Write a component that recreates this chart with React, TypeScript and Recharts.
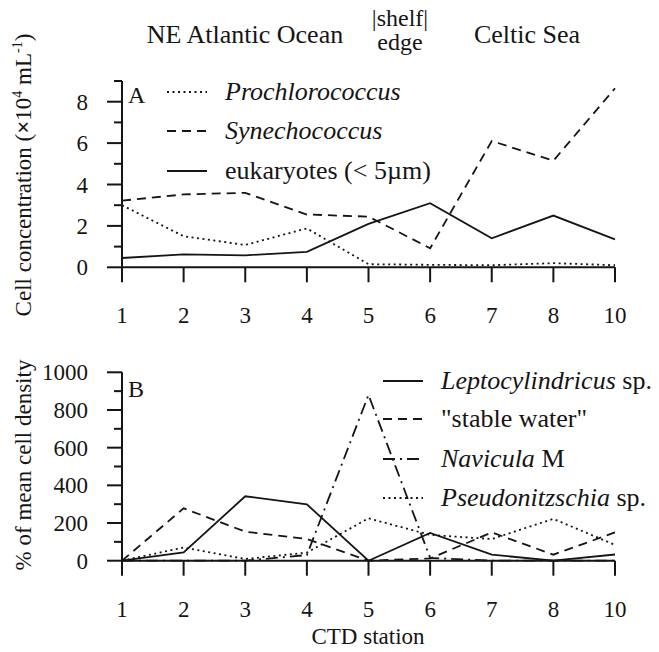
import React from 'react';
import { LineChart, Line, XAxis, YAxis } from 'recharts';

// CTD stations along the transect
const stations = ['1', '2', '3', '4', '5', '6', '7', '8', '10'];

// panel A, cell concentration (x10^4 per mL)
const prochlorococcus = [3.0, 1.5, 1.08, 1.88, 0.15, 0.12, 0.1, 0.2, 0.1];
const synechococcus = [3.22, 3.52, 3.6, 2.55, 2.45, 0.92, 6.1, 5.15, 8.65];
const eukaryotes = [0.45, 0.62, 0.58, 0.75, 2.1, 3.1, 1.4, 2.5, 1.35];

// panel B, % of mean cell density
const leptocylindricus = [0, 44, 342, 299, 0, 147, 32, 0, 33];
const stableWater = [0, 278, 154, 115, 0, 12, 150, 32, 150];
const navicula = [0, 0, 0, 30, 880, 15, 0, 0, 0];
const pseudonitzschia = [0, 70, 9, 43, 225, 137, 115, 222, 84];

const ticksA = [0, 1, 2, 3, 4, 5, 6, 7, 8, 9];
const ticksB = [0, 100, 200, 300, 400, 500, 600, 700, 800, 900, 1000];

const dataA = stations.map((s, i) => ({
  station: s,
  pro: prochlorococcus[i],
  syn: synechococcus[i],
  euk: eukaryotes[i],
}));

const dataB = stations.map((s, i) => ({
  station: s,
  lep: leptocylindricus[i],
  stw: stableWater[i],
  nav: navicula[i],
  pse: pseudonitzschia[i],
}));

const FONT = "'Liberation Serif', 'DejaVu Serif', 'Noto Serif', 'Times New Roman', serif";
const INK = '#151515';
const DOT = '2 3.5';
const DASH = '9 6';
const DASHDOT = '12 5 2 5';
const serif = { fontFamily: FONT };

const YTick = ({ x, y, payload, every }: any) => {
  const major = payload.value % every === 0;
  return (
    <g>
      <line x1={x - (major ? 15 : 8)} x2={x} y1={y} y2={y} stroke={INK} strokeWidth={2} />
      {major && (
        <text x={x - 34} y={y} dy={8} textAnchor="end" fontSize={23} style={serif} fill={INK}>
          {payload.value}
        </text>
      )}
    </g>
  );
};

const XTick = ({ x, y, payload }: any) => (
  <g>
    <line x1={x} x2={x} y1={y} y2={y + 15} stroke={INK} strokeWidth={2} />
    <text x={x} y={y + 56} textAnchor="middle" fontSize={23} style={serif} fill={INK}>
      {payload.value}
    </text>
  </g>
);

const LegendRow = ({ y, dash, x1, children }: any) => (
  <g>
    <line x1={x1} x2={x1 + 40} y1={y} y2={y} stroke={INK} strokeWidth={1.8} strokeDasharray={dash} />
    <text x={x1 + 58} y={y + 8} fontSize={26} style={serif} fill={INK}>
      {children}
    </text>
  </g>
);

export default function App() {
  return (
    <div style={{ position: 'absolute', left: 0, top: 0, width: 659, height: 652, background: '#fff', fontFamily: FONT }}>
      <div style={{ position: 'absolute', left: 0, top: 0 }}>
        <LineChart width={659} height={340} data={dataA} margin={{ top: 81, right: 44, left: 62, bottom: 32.7 }}>
          <XAxis
            dataKey="station"
            height={40}
            interval={0}
            tickSize={0}
            tickMargin={0}
            tickLine={false}
            tick={<XTick />}
            axisLine={{ stroke: INK, strokeWidth: 2 }}
          />
          <YAxis
            width={60}
            domain={[0, 9]}
            ticks={ticksA}
            interval={0}
            tickSize={0}
            tickMargin={0}
            tickLine={false}
            tick={<YTick every={2} />}
            axisLine={{ stroke: INK, strokeWidth: 2 }}
          />
          <Line dataKey="pro" stroke={INK} strokeWidth={1.8} strokeDasharray={DOT} dot={false} isAnimationActive={false} />
          <Line dataKey="syn" stroke={INK} strokeWidth={1.8} strokeDasharray={DASH} dot={false} isAnimationActive={false} />
          <Line dataKey="euk" stroke={INK} strokeWidth={1.8} dot={false} isAnimationActive={false} />
        </LineChart>
      </div>
      <div style={{ position: 'absolute', left: 0, top: 300 }}>
        <LineChart width={659} height={352} data={dataB} margin={{ top: 72.3, right: 44, left: 62, bottom: 51.3 }}>
          <XAxis
            dataKey="station"
            height={40}
            interval={0}
            tickSize={0}
            tickMargin={0}
            tickLine={false}
            tick={<XTick />}
            axisLine={{ stroke: INK, strokeWidth: 2 }}
          />
          <YAxis
            width={60}
            domain={[0, 1000]}
            ticks={ticksB}
            interval={0}
            tickSize={0}
            tickMargin={0}
            tickLine={false}
            tick={<YTick every={200} />}
            axisLine={{ stroke: INK, strokeWidth: 2 }}
          />
          <Line dataKey="lep" stroke={INK} strokeWidth={1.8} dot={false} isAnimationActive={false} />
          <Line dataKey="stw" stroke={INK} strokeWidth={1.8} strokeDasharray={DASH} dot={false} isAnimationActive={false} />
          <Line dataKey="nav" stroke={INK} strokeWidth={1.8} strokeDasharray={DASHDOT} dot={false} isAnimationActive={false} />
          <Line dataKey="pse" stroke={INK} strokeWidth={1.8} strokeDasharray={DOT} dot={false} isAnimationActive={false} />
        </LineChart>
      </div>

      {/* titles, axis labels and legends */}
      <svg width={659} height={652} style={{ position: 'absolute', left: 0, top: 0, pointerEvents: 'none' }}>
        <g style={serif} fill={INK}>
          <text x={245} y={43} fontSize={26} textAnchor="middle">NE Atlantic Ocean</text>
          <text x={400} y={26} fontSize={24} textAnchor="middle">|shelf|</text>
          <text x={400} y={50} fontSize={24} textAnchor="middle">edge</text>
          <text x={527} y={43} fontSize={26} textAnchor="middle">Celtic Sea</text>

          <text transform="translate(31,175) rotate(-90)" fontSize={23} textAnchor="middle">
            Cell concentration (<tspan fontWeight="bold">×</tspan>10<tspan fontSize={14} dy={-9}>4</tspan>
            <tspan dy={9}> mL</tspan><tspan fontSize={14} dy={-9}>-1</tspan><tspan dy={9}>)</tspan>
          </text>
          <text transform="translate(31,465) rotate(-90)" fontSize={23} textAnchor="middle">
            % of mean cell density
          </text>
          <text x={368} y={644} fontSize={23} textAnchor="middle">CTD station</text>

          <text x={128} y={103} fontSize={24}>A</text>
          <text x={128} y={397} fontSize={24}>B</text>
        </g>

        <LegendRow x1={167} y={92} dash={DOT}><tspan fontStyle="italic">Prochlorococcus</tspan></LegendRow>
        <LegendRow x1={167} y={131} dash={DASH}><tspan fontStyle="italic">Synechococcus</tspan></LegendRow>
        <LegendRow x1={167} y={171} dash={undefined}>eukaryotes (&lt; 5µm)</LegendRow>

        <LegendRow x1={383} y={381} dash={undefined}><tspan fontStyle="italic">Leptocylindricus</tspan> sp.</LegendRow>
        <LegendRow x1={383} y={419} dash={DASH}>"stable water"</LegendRow>
        <LegendRow x1={383} y={459} dash={DASHDOT}><tspan fontStyle="italic">Navicula</tspan> M</LegendRow>
        <LegendRow x1={383} y={498} dash={DOT}><tspan fontStyle="italic">Pseudonitzschia</tspan> sp.</LegendRow>
      </svg>
    </div>
  );
}
